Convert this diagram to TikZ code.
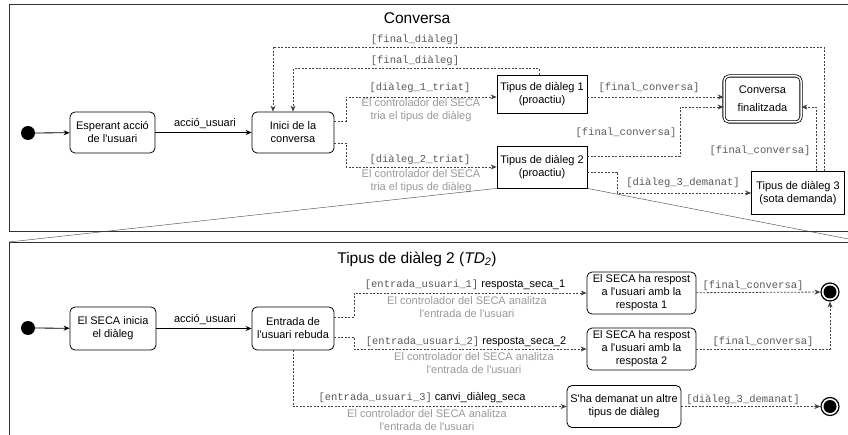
\documentclass[tikz,border=0pt]{standalone}
\usepackage{fontspec}
\setmainfont{Liberation Sans}
\setmonofont{Liberation Mono}
\usepackage{xcolor}
\usetikzlibrary{arrows.meta,calc,positioning}
\newcommand{\guarda}[1]{{\fontsize{10.5}{12}\selectfont\ttfamily\color{black!65}#1}}

\begin{document}
\begin{tikzpicture}[x=1pt,y=-1pt]
		\tikzstyle{every node}=[font=\fontsize{11}{13}\selectfont]
		\tikzstyle{estat}=[draw, rounded corners=5pt, align=center, line width=0.8pt, inner sep=1pt]
		\tikzstyle{tipus}=[draw, align=center, line width=0.8pt, inner sep=1pt]
		\tikzstyle{inicial}=[circle, fill, inner sep=0pt, minimum size=14pt]
		\tikzstyle{final}=[circle, draw, line width=1.2pt, inner sep=0pt, minimum size=18pt, path picture={\fill (path picture bounding box.center) circle (6.5pt);}]
		\tikzstyle{guard}=[inner sep=1pt]
		\tikzstyle{nota}=[text=black!40, align=center, inner sep=1pt]
		\tikzstyle{trans}=[dash pattern=on 2pt off 1.5pt, draw=black!75, line width=0.8pt, -{Stealth[length=6pt,width=5pt]}]
		\tikzstyle{fletxa}=[line width=0.8pt, -{Stealth[length=6pt,width=5pt]}]
		\useasboundingbox (0,0) rectangle (848,435);
		\clip (0,0) rectangle (848,435);
		\draw [line width=0.8pt, black!80] (9,4) rectangle (870,231);
		\draw [line width=0.8pt, black!80] (9,242) rectangle (870,450);
		\node [font=\fontsize{15.5}{18}\selectfont] (titol1) at (417,18) {Conversa};
		\node [font=\fontsize{15.5}{18}\selectfont] (titol2) at (417,259) {Tipus de diàleg 2 (\textit{TD\textsubscript{2}})};
		\node [inicial] (ini1) at (28,133) {};
		\node [estat, minimum width=85pt, minimum height=41pt] (esp) at (112.5,132.5) {Esperant acció\\de l\textquotesingle usuari};
		\node [estat, minimum width=82pt, minimum height=41pt] (inici) at (293,132.5) {Inici de la\\conversa};
		\node [tipus, minimum width=90pt, minimum height=38pt] (td1) at (542,94) {Tipus de diàleg 1\\(proactiu)};
		\node [tipus, minimum width=90pt, minimum height=42pt] (td2) at (542,167) {Tipus de diàleg 2\\(proactiu)};
		\node [tipus, minimum width=93pt, minimum height=43pt] (td3) at (798,193) {Tipus de diàleg 3\\(sota demanda)};
		\node [estat, double, double distance=1.5pt, minimum width=77pt, minimum height=46pt] (cf) at (762.5,99) {Conversa\\[5pt]finalitzada};
		\coordinate (k1) at ([xshift=-20pt]inici.north);
		\draw [fletxa] (ini1) -- (esp);
		\draw [fletxa] (esp) -- (inici);
		\draw [trans] (inici.east |- 0,121) -- ++(12,0) |- (td1.west |- 0,97);
		\draw [trans] (inici.east |- 0,143) -- ++(12,0) |- (td2.west |- 0,167);
		\draw [trans] ([xshift=-3pt]td1.north) |- ++(0,-6) -| (inici.north);
		\draw [trans] ([xshift=26pt]td3.north) |- (k1 |- 0,47) -- (k1);
		\draw [trans] (td1.east |- 0,97) -- (cf.west |- 0,97);
		\draw [trans] (td2.east |- 0,156) -- ++(93,0) |- (cf.west |- 0,107);
		\draw [trans] (td2.east |- 0,172) -- ++(30,0) |- (td3.west);
		\draw [trans] ([xshift=18pt]td3.north) |- (cf.east |- 0,107);
		\node (lacc1) at (205,124) {acció\_usuari};
		\node [guard] (lfd1) at (415,40) {\guarda{[final\_diàleg]}};
		\node [guard] (lfd2) at (415,61) {\guarda{[final\_diàleg]}};
		\node [guard] (ld1) at (420,88) {\guarda{[diàleg\_1\_triat]}};
		\node [nota] (nd1) at (421,110) {El controlador del SECA\\tria el tipus de diàleg};
		\node [guard] (ld2) at (420,160) {\guarda{[diàleg\_2\_triat]}};
		\node [nota] (nd2) at (421,181.5) {El controlador del SECA\\tria el tipus de diàleg};
		\node [guard] (lfc1) at (649,88) {\guarda{[final\_conversa]}};
		\node [guard] (lfc2) at (626,133) {\guarda{[final\_conversa]}};
		\node [guard] (lfc3) at (760,151) {\guarda{[final\_conversa]}};
		\node [guard] (ld3) at (683,183) {\guarda{[diàleg\_3\_demanat]}};
		\draw [black!75] (td2.south west) -- (9,242);
		\draw [black!75] (td2.south east) -- (864,242);
		\node [inicial] (ini2) at (28,328) {};
		\node [estat, minimum width=86pt, minimum height=43pt] (seca) at (113,328.5) {El SECA inicia\\el diàleg};
		\node [estat, minimum width=82pt, minimum height=43pt] (entr) at (293,328.5) {Entrada de\\l\textquotesingle usuari rebuda};
		\node [estat, minimum width=109pt, minimum height=42pt] (resp1) at (641.5,293) {El SECA ha respost\\a l\textquotesingle usuari amb la\\resposta 1};
		\node [estat, minimum width=109pt, minimum height=42pt] (resp2) at (641.5,349) {El SECA ha respost\\a l\textquotesingle usuari amb la\\resposta 2};
		\node [estat, minimum width=114pt, minimum height=42pt] (canvi) at (624,406.5) {S\textquotesingle ha demanat un altre\\tipus de diàleg};
		\node [final] (fi1) at (830,292) {};
		\node [final] (fi2) at (830,406.5) {};
		\draw [fletxa] (ini2) -- (seca);
		\draw [fletxa] (seca) -- (entr);
		\draw [trans] (entr.east |- 0,317) -- ++(20,0) |- (resp1.west);
		\draw [trans] (entr.east |- 0,337) -- ++(20,0) |- (resp2.west);
		\draw [trans] (entr.south) |- (canvi.west);
		\draw [trans] (resp1) -- (fi1);
		\draw [trans] (resp2.east) -| (fi1.south);
		\draw [trans] (canvi) -- (fi2);
		\node (lacc2) at (205,320) {acció\_usuari};
		\node [guard] (le1) at (465,285) {\guarda{[entrada\_usuari\_1]} resposta\_seca\_1};
		\node [nota] (ne1) at (467,307.5) {El controlador del SECA analitza\\l\textquotesingle entrada de l\textquotesingle usuari};
		\node [guard] (le2) at (466,342) {\guarda{[entrada\_usuari\_2]} resposta\_seca\_2};
		\node [nota] (ne2) at (474,363) {El controlador del SECA analitza\\l\textquotesingle entrada de l\textquotesingle usuari};
		\node [guard] (le3) at (422,398) {\guarda{[entrada\_usuari\_3]} canvi\_diàleg\_seca};
		\node [nota] (ne3) at (427,420) {El controlador del SECA analitza\\l\textquotesingle entrada de l\textquotesingle usuari};
		\node [guard] (lfc4) at (753,286) {\guarda{[final\_conversa]}};
		\node [guard] (lfc5) at (763,342) {\guarda{[final\_conversa]}};
		\node [guard] (ld4) at (743,400) {\guarda{[diàleg\_3\_demanat]}};
	\end{tikzpicture}
\end{document}
